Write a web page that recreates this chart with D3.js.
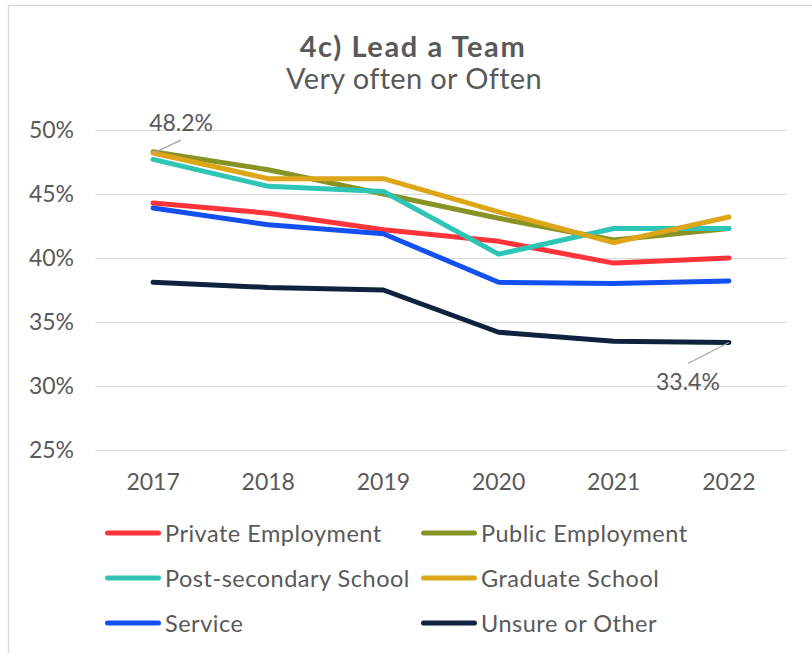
<!DOCTYPE html>
<html><head><meta charset="utf-8">
<script src="https://cdn.jsdelivr.net/npm/d3@7"></script>
<style>
html,body{margin:0;padding:0;background:#fff;}
svg{display:block;font-family:Lato, "Open Sans", sans-serif;}
</style></head><body>
<svg id="chart" width="812" height="653"></svg>
<script>
const years = ["2017","2018","2019","2020","2021","2022"];
const seriesNames = ["Private Employment","Public Employment","Post-secondary School","Graduate School","Service","Unsure or Other"];
const privateEmployment = [44.3, 43.5, 42.2, 41.3, 39.6, 40.0];
const publicEmployment = [48.3, 46.9, 45.0, 43.1, 41.4, 42.3];
const postSecondary = [47.7, 45.6, 45.2, 40.3, 42.3, 42.3];
const graduateSchool = [48.2, 46.2, 46.2, 43.6, 41.2, 43.2];
const service = [43.9, 42.6, 41.9, 38.1, 38.0, 38.2];
const unsureOther = [38.1, 37.7, 37.5, 34.2, 33.5, 33.4];
const yTicks = [25, 30, 35, 40, 45, 50];
const colors = ["#FF333A","#879324","#2EC4B6","#DDA518","#1450F0","#0F2340"];

const seriesValues = [privateEmployment, publicEmployment, postSecondary, graduateSchool, service, unsureOther];
const series = seriesNames.map((n,i)=>({name:n, values:seriesValues[i], color:colors[i]}));

const svg = d3.select("#chart");
const textColor = "#595959";

// border
svg.append("rect").attr("x",8.5).attr("y",5.5).attr("width",820).attr("height",700)
  .attr("fill","none").attr("stroke","#d9d9d9").attr("stroke-width",1.5);

// title
svg.append("text").attr("x",413).attr("y",57).attr("text-anchor","middle")
  .attr("font-size",29).attr("font-weight","bold").attr("letter-spacing","1.6px")
  .attr("fill",textColor).text("4c) Lead a Team");
svg.append("text").attr("x",414).attr("y",89).attr("text-anchor","middle")
  .attr("font-size",29).attr("letter-spacing","0.35px").attr("fill",textColor).text("Very often or Often");

const x = d3.scaleBand().domain(years).range([95.5, 786.5]);
const y = d3.scaleLinear().domain([25, 50]).range([450, 130]);

// gridlines
svg.append("g").selectAll("line").data(yTicks).join("line")
  .attr("x1",95.5).attr("x2",786.5)
  .attr("y1",d=>Math.round(y(d))+0.5).attr("y2",d=>Math.round(y(d))+0.5)
  .attr("stroke","#d9d9d9").attr("stroke-width",1.2);

// y axis
const yAxis = svg.append("g").attr("transform","translate(74,0)")
  .call(d3.axisLeft(y).tickValues(yTicks).tickSize(0).tickPadding(0).tickFormat(d=>d+"%"));
yAxis.select(".domain").remove();
yAxis.selectAll("text").attr("font-size",23).attr("fill",textColor).attr("font-family","Lato");

// x axis
const xAxis = svg.append("g").attr("transform","translate(0,490)")
  .call(d3.axisBottom(x).tickSize(0).tickPadding(0));
xAxis.select(".domain").remove();
xAxis.selectAll("text").attr("font-size",23).attr("fill",textColor).attr("font-family","Lato")
  .attr("y",0).attr("dy",0);

// lines
const line = d3.line().x((d,i)=>x(years[i])+x.bandwidth()/2).y(d=>y(d));
svg.append("g").selectAll("path").data(series).join("path")
  .attr("d",d=>line(d.values)).attr("fill","none").attr("stroke",d=>d.color)
  .attr("stroke-width",5).attr("stroke-linecap","round").attr("stroke-linejoin","round");

// data labels
const cx = i => x(years[i]) + x.bandwidth()/2;
const gv = graduateSchool[0];
svg.append("line").attr("x1",cx(0)).attr("y1",y(gv)).attr("x2",cx(0)+28).attr("y2",y(gv)-13)
  .attr("stroke","#a6a6a6").attr("stroke-width",1.3);
svg.append("text").attr("x",cx(0)+28).attr("y",y(gv)-22.5).attr("text-anchor","middle")
  .attr("font-size",23).attr("fill",textColor).text(d3.format(".1f")(gv)+"%");
const uv = unsureOther[5];
svg.append("line").attr("x1",cx(5)).attr("y1",y(uv)).attr("x2",cx(5)-41).attr("y2",y(uv)+21)
  .attr("stroke","#a6a6a6").attr("stroke-width",1.3);
svg.append("text").attr("x",cx(5)-41).attr("y",y(uv)+48).attr("text-anchor","middle")
  .attr("font-size",23).attr("fill",textColor).text(d3.format(".1f")(uv)+"%");

// legend
const legX = [105, 421], legY = [533, 578, 623];
const lg = svg.append("g").selectAll("g").data(series).join("g")
  .attr("transform",(d,i)=>`translate(${legX[i%2]},${legY[Math.floor(i/2)]})`);
lg.append("line").attr("x1",2.5).attr("x2",53.5).attr("y1",0).attr("y2",0)
  .attr("stroke",d=>d.color).attr("stroke-width",5).attr("stroke-linecap","round");
lg.append("text").attr("x",60).attr("y",9).attr("font-size",23.5).attr("letter-spacing","0.5px")
  .attr("fill",textColor).text(d=>d.name);
</script>
</body></html>
